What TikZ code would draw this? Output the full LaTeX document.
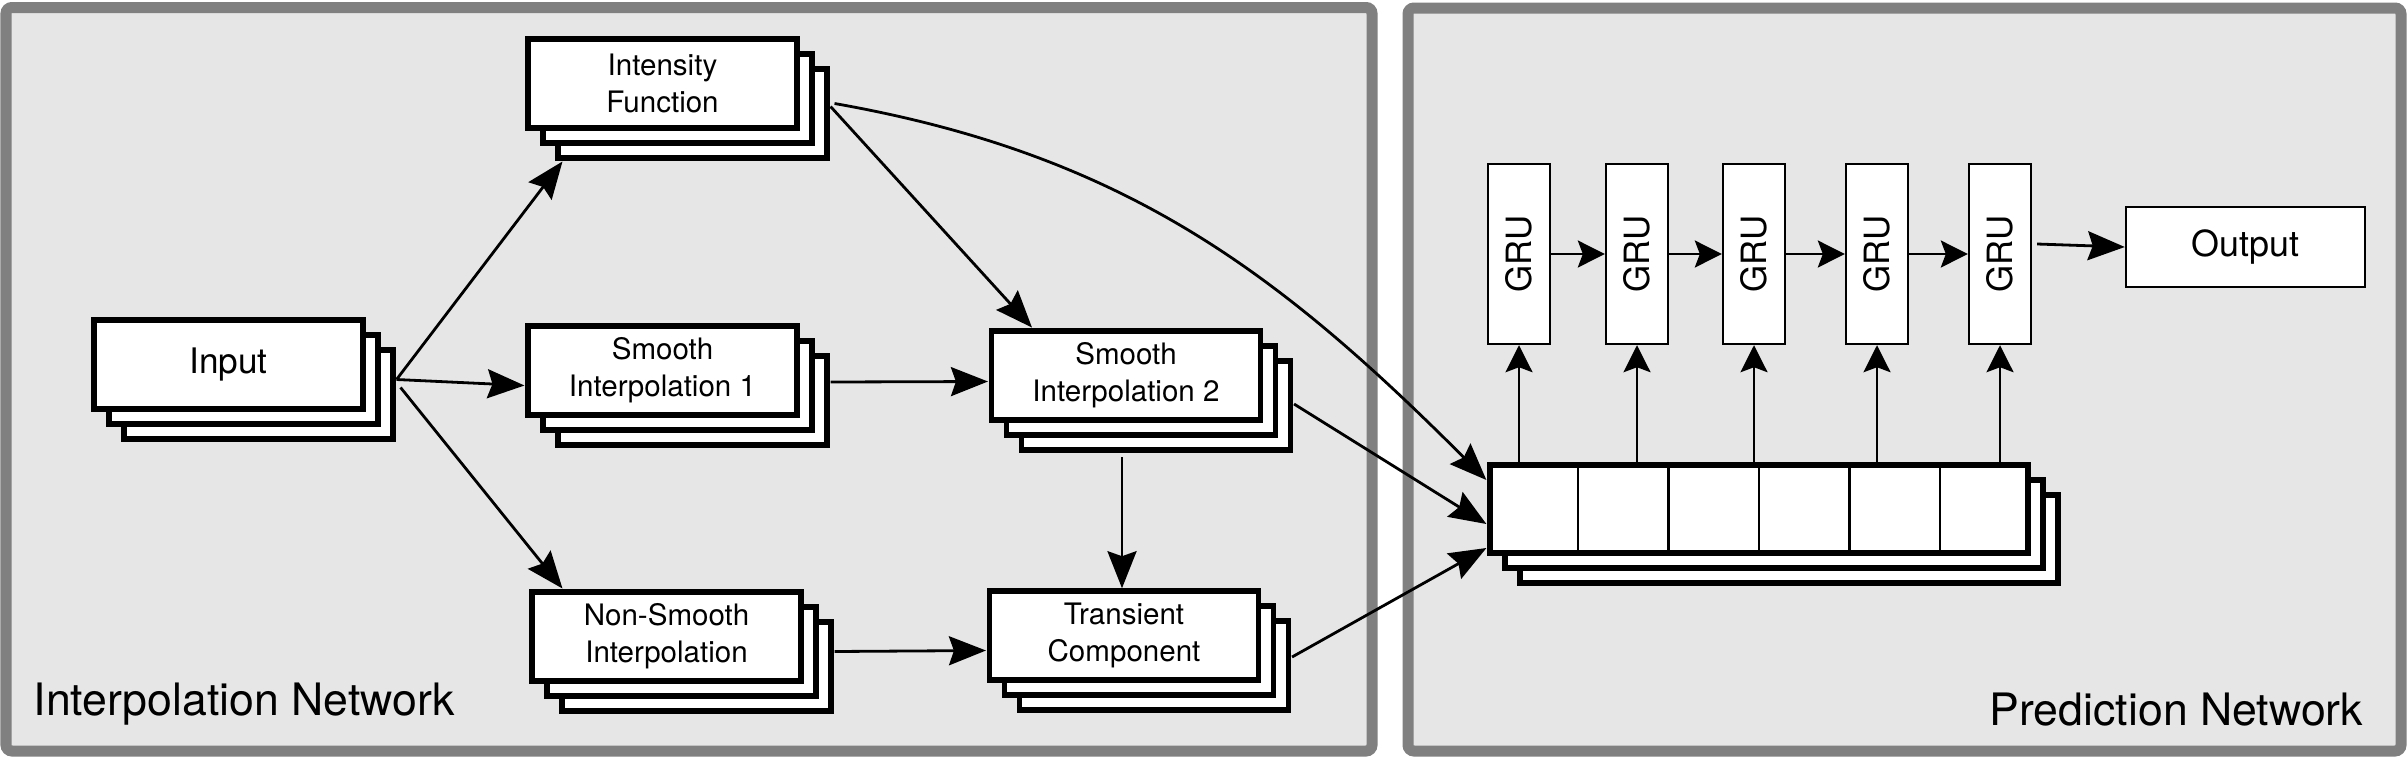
\documentclass[tikz,border=0pt]{standalone}
\usepackage{fontspec}
\setmainfont{TeX Gyre Heros}
\usetikzlibrary{arrows.meta,fit,calc}
\definecolor{panelgray}{HTML}{808080}
\definecolor{panelfill}{HTML}{E6E6E6}
\newcommand\mkstack[4]{%
  \node[stackbox] (#1c) at (#2+30,#3+30) {};
  \node[stackbox] (#1b) at (#2+15,#3+15) {};
  \node[stackbox] (#1) at (#2,#3) {#4};
  \node[fit=(#1)(#1c), inner sep=0pt] (#1S) {};
}
\begin{document}
\begin{tikzpicture}[x=0.01cm,y=-0.01cm,
  panel/.style={draw=panelgray, fill=panelfill, line width=0.11cm, rounded corners=0.06cm},
  stackbox/.style={draw=black, fill=white, line width=0.055cm, minimum width=2.69cm, minimum height=0.89cm, inner sep=0pt, align=center, font=\fontsize{8.4}{10.6}\selectfont},
  thinbox/.style={draw=black, fill=white, line width=0.023cm, inner sep=0pt},
  conn/.style={line width=0.028cm, -{Stealth[length=0.37cm,width=0.29cm,inset=0.05cm]}},
  sconn/.style={line width=0.025cm, -{Stealth[length=0.27cm,width=0.27cm,inset=0.05cm]}},
  lbl/.style={inner sep=0pt, font=\fontsize{12.7}{15}\selectfont},
  grubox/.style={thinbox, minimum width=0.62cm, minimum height=1.80cm, font=\fontsize{9.9}{12}\selectfont},
]
\useasboundingbox (0,0) rectangle (2408,760);
% panels
\draw[panel] (6,7.5) rectangle (1372,751);
\draw[panel] (1408,8) rectangle (2401,751);
\node[lbl, anchor=base west] (lblL) at (33,715) {Interpolation Network};
\node[lbl, anchor=base east] (lblR) at (2364,725) {Prediction Network};

% left stacks
\mkstack{inp}{228.5}{364.5}{\fontsize{10}{12}\selectfont Input}
\mkstack{int}{662.5}{83.5}{Intensity\\Function}
\mkstack{smA}{662.5}{370.5}{Smooth\\Interpolation 1}
\mkstack{smB}{1126}{375.5}{Smooth\\Interpolation 2}
\mkstack{ns}{666.5}{636.5}{Non-Smooth\\Interpolation}
\mkstack{tr}{1124}{635.5}{Transient\\Component}

% memory stack
\node[stackbox, minimum width=5.38cm, minimum height=0.88cm] (memc) at (1789,539) {};
\node[stackbox, minimum width=5.38cm, minimum height=0.88cm] (memb) at (1774,524) {};
\node[stackbox, minimum width=5.38cm, minimum height=0.88cm] (mem) at (1759,509) {};
\node[fit=(mem)(memc), inner sep=0pt] (memS) {};
\foreach \i in {1,...,5}
  \draw[line width=0.023cm] ($(mem.north west)!\i/6!(mem.north east)$) -- ($(mem.south west)!\i/6!(mem.south east)$);

% GRUs
\node[grubox] (g1) at (1519,254) {\rotatebox{90}{GRU}};
\node[grubox] (g2) at (1637,254) {\rotatebox{90}{GRU}};
\node[grubox] (g3) at (1754,254) {\rotatebox{90}{GRU}};
\node[grubox] (g4) at (1877,254) {\rotatebox{90}{GRU}};
\node[grubox] (g5) at (2000,254) {\rotatebox{90}{GRU}};
\node[thinbox, minimum width=2.39cm, minimum height=0.80cm, font=\fontsize{10.2}{12}\selectfont] (out) at (2245.5,247) {Output};

% left connectors
\draw[conn] (inpS.east) -- ([xshift=0.38cm]intS.south west);
\draw[conn] (inpS.east) -- (smAS.west);
\draw[conn] ($(inpS.east)+(4,8)$) -- ([xshift=0.34cm]nsS.north west);
\draw[conn] ($(intS.east)+(0,8)$) -- ([xshift=0.44cm]smBS.north west);
\draw[conn] ($(smAS.east)+(0,-3.5)$) -- ($(smBS.west)+(0,-9)$);
\draw[conn] ($(smBS.south -| smB.south)+(-4,4)$) -- ($(tr.north)+(-2,0)$);
\draw[conn] (nsS.east) -- (trS.west);

% to memory
\draw[conn] ($(intS.east)+(4,5)$) to[out=-10,in=135] ($(memS.west)+(0,-44)$);
\draw[conn] ($(smBS.east)+(0,13.5)$) -- (memS.west);
\draw[conn] ($(trS.east)+(0,6.5)$) -- ($(memS.west)+(0,24)$);

% prediction network connectors
\draw[sconn] (g1.east) -- (g2.west);
\draw[sconn] (g2.east) -- (g3.west);
\draw[sconn] (g3.east) -- (g4.west);
\draw[sconn] (g4.east) -- (g5.west);
\foreach \g in {g1,g2,g3,g4,g5}
  \draw[sconn] (\g.south |- mem.north) -- (\g.south);
\draw[conn] ($(g5.east)+(5,-10)$) -- (out.west);
\end{tikzpicture}
\end{document}
